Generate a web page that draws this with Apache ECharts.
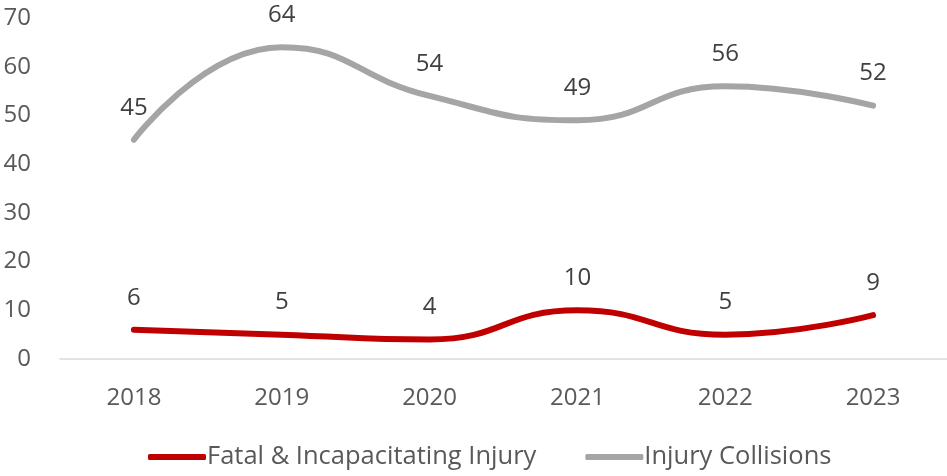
<!DOCTYPE html>
<html>
<head>
<meta charset="utf-8">
<script src="https://cdn.jsdelivr.net/npm/echarts@6/dist/echarts.min.js"></script>
<style>
  html, body { margin: 0; padding: 0; background: #fff; }
  #chart { width: 947px; height: 476px; }
</style>
</head>
<body>
<div id="chart"></div>
<script>
// chart data
const years = ["2018", "2019", "2020", "2021", "2022", "2023"];
const fatalInjury = [6, 5, 4, 10, 5, 9];
const injuryCollisions = [45, 64, 54, 49, 56, 52];

const font = "'Open Sans', 'Noto Sans', sans-serif";

const myChart = echarts.init(document.getElementById("chart"));

const labelOption = {
  show: true,
  position: "top",
  distance: 20,
  fontSize: 24,
  fontFamily: font,
  color: "#404040",
};

myChart.setOption({
  animation: false,
  textStyle: { fontFamily: font },
  grid: { left: 60, right: 0, top: 18, bottom: 117 },
  legend: {
    bottom: 6,
    left: 148,
    padding: 0,
    itemWidth: 58,
    itemHeight: 6,
    itemGap: 49,
    icon: "roundRect",
    textStyle: { fontSize: 25.5, color: "#595959", fontFamily: font, padding: [0, 0, 0, -4] },
    data: ["Fatal & Incapacitating Injury", "Injury Collisions"],
  },
  xAxis: {
    type: "category",
    data: years,
    boundaryGap: true,
    axisLine: { lineStyle: { color: "#d9d9d9", width: 1.5 } },
    axisTick: { show: false },
    axisLabel: { fontSize: 24, color: "#595959", margin: 27, fontFamily: font },
  },
  yAxis: {
    type: "value",
    min: 0,
    max: 70,
    interval: 10,
    splitLine: { show: false },
    axisLabel: { fontSize: 24, color: "#595959", margin: 29, fontFamily: font },
  },
  series: [
    {
      name: "Fatal & Incapacitating Injury",
      type: "line",
      smooth: 0.5,
      symbol: "circle",
      symbolSize: 0.1,
      showSymbol: true,
      lineStyle: { color: "#C00000", width: 6, cap: "round" },
      itemStyle: { color: "#C00000" },
      label: labelOption,
      data: fatalInjury,
    },
    {
      name: "Injury Collisions",
      type: "line",
      smooth: 0.5,
      symbol: "circle",
      symbolSize: 0.1,
      showSymbol: true,
      lineStyle: { color: "#A5A5A5", width: 6, cap: "round" },
      itemStyle: { color: "#A5A5A5" },
      label: labelOption,
      data: injuryCollisions,
    },
  ],
});
</script>
</body>
</html>
